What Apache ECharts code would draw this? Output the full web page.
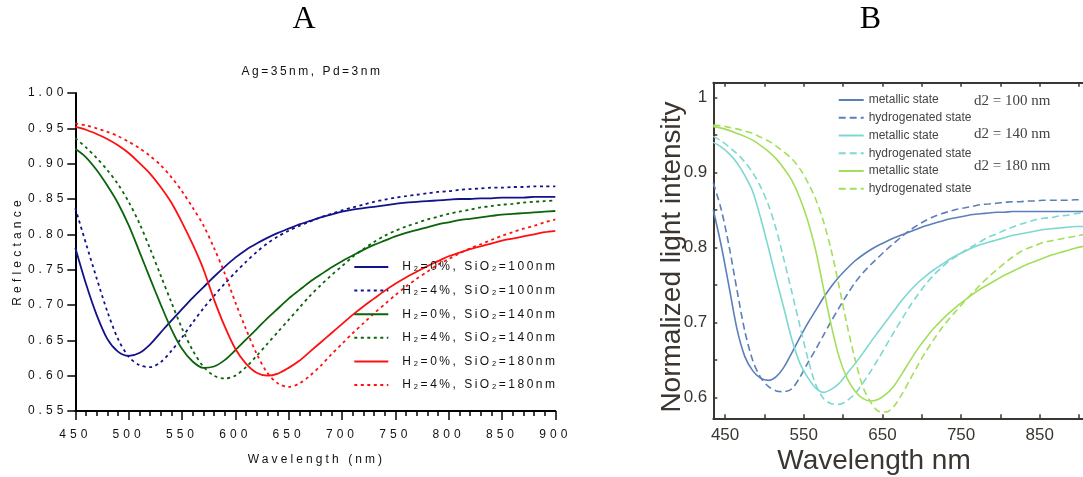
<!DOCTYPE html>
<html><head><meta charset="utf-8">
<script src="https://cdn.jsdelivr.net/npm/echarts@6/dist/echarts.min.js"></script>
<style>html,body{margin:0;background:#fff;}.c{position:absolute;left:0;top:0;width:1083px;height:477px;}</style>
</head><body>
<div id="a" class="c"></div><div id="b" class="c"></div>
<script>
// ---------- Panel A: wavelength (nm) and reflectance ----------
const A_wl = [450,460,470,480,490,500,510,520,530,540,550,560,570,580,590,600,610,620,630,640,650,660,670,680,690,700,710,720,730,740,750,760,770,780,790,800,810,820,830,840,850,860,870,880,890,900];
const A_h0_100 = [.781,.730,.686,.652,.634,.628,.632,.644,.661,.678,.694,.710,.725,.740,.754,.767,.778,.787,.795,.802,.808,.814,.819,.824,.828,.832,.835,.837,.839,.841,.843,.845,.846,.847,.848,.849,.850,.850,.851,.851,.852,.852,.852,.853,.853,.853];
const A_h4_100 = [.837,.787,.738,.691,.652,.627,.615,.612,.619,.635,.654,.675,.695,.713,.730,.746,.761,.775,.787,.797,.805,.812,.818,.824,.829,.834,.838,.842,.846,.849,.852,.854,.856,.858,.860,.861,.863,.864,.865,.866,.866,.867,.867,.868,.868,.868];
const A_h0_140 = [.921,.909,.891,.869,.844,.813,.776,.738,.701,.666,.638,.620,.611,.613,.622,.636,.651,.666,.681,.695,.709,.721,.733,.743,.753,.762,.770,.778,.785,.791,.797,.802,.806,.810,.814,.817,.820,.822,.824,.826,.828,.829,.830,.831,.832,.833];
const A_h4_140 = [.936,.923,.908,.891,.871,.846,.816,.780,.742,.704,.667,.636,.613,.600,.596,.600,.612,.628,.645,.662,.679,.696,.713,.728,.742,.755,.768,.779,.789,.798,.805,.811,.816,.821,.825,.829,.832,.835,.838,.840,.842,.843,.845,.846,.847,.848];
const A_h0_180 = [.952,.948,.942,.935,.926,.915,.901,.886,.867,.845,.817,.786,.751,.708,.670,.638,.617,.604,.600,.603,.611,.621,.634,.647,.660,.673,.686,.698,.709,.720,.730,.739,.747,.755,.762,.769,.774,.779,.783,.787,.791,.794,.797,.800,.803,.805];
const A_h4_180 = [.957,.954,.950,.945,.939,.931,.922,.911,.898,.881,.861,.838,.813,.781,.745,.704,.666,.631,.604,.589,.584,.589,.600,.614,.630,.645,.660,.674,.688,.701,.714,.726,.737,.747,.757,.765,.773,.780,.786,.792,.798,.803,.808,.812,.817,.821];
const A_names = ['H₂=0%, SiO₂=100nm','H₂=4%, SiO₂=100nm','H₂=0%, SiO₂=140nm','H₂=4%, SiO₂=140nm','H₂=0%, SiO₂=180nm','H₂=4%, SiO₂=180nm'];
const A_title = 'Ag=35nm, Pd=3nm';

// ---------- Panel B: wavelength (nm) and normalized light intensity ----------
const B_wl = [435,445,455,465,475,485,495,505,515,525,535,545,555,565,575,585,595,605,615,625,635,645,655,665,675,685,695,705,715,725,735,745,755,765,775,785,795,805,815,825,835,845,855,865,875,885,895,905];
const B_m_100 = [.850,.803,.748,.692,.655,.636,.626,.623,.628,.641,.660,.680,.699,.716,.733,.748,.761,.772,.782,.790,.797,.803,.808,.813,.817,.821,.825,.829,.832,.835,.838,.840,.842,.844,.845,.846,.847,.847,.848,.848,.848,.848,.848,.848,.848,.848,.848,.848];
const B_h_100 = [.886,.851,.802,.744,.689,.650,.627,.615,.609,.608,.612,.627,.646,.664,.683,.702,.720,.737,.753,.766,.777,.787,.797,.806,.815,.823,.830,.836,.841,.845,.848,.851,.853,.855,.857,.858,.859,.860,.861,.861,.862,.862,.863,.863,.863,.863,.8635,.8635];
const B_m_140 = [.940,.934,.925,.913,.896,.875,.840,.800,.758,.718,.677,.646,.627,.613,.607,.611,.619,.632,.645,.659,.674,.688,.702,.716,.730,.742,.753,.762,.770,.777,.784,.790,.795,.800,.804,.807,.810,.813,.816,.818,.820,.822,.824,.825,.826,.827,.828,.828];
const B_h_140 = [.948,.942,.934,.925,.914,.900,.881,.857,.824,.783,.740,.696,.653,.618,.599,.592,.591,.596,.605,.619,.635,.652,.670,.688,.705,.722,.737,.751,.763,.773,.782,.789,.796,.802,.808,.814,.818,.823,.827,.831,.834,.837,.839,.840,.842,.843,.845,.846];
const B_m_180 = [.961,.959,.956,.952,.948,.943,.936,.928,.918,.905,.889,.866,.836,.797,.746,.696,.654,.626,.609,.599,.5955,.598,.605,.616,.632,.649,.665,.679,.692,.703,.713,.722,.730,.738,.745,.751,.757,.763,.768,.773,.778,.782,.786,.790,.793,.796,.799,.8015];
const B_h_180 = [.963,.962,.960,.958,.955,.952,.947,.942,.935,.927,.918,.905,.887,.865,.835,.796,.748,.697,.652,.615,.594,.582,.581,.589,.605,.624,.643,.661,.677,.692,.705,.717,.729,.740,.751,.761,.770,.779,.787,.794,.799,.803,.807,.809,.811,.813,.815,.817];
const B_states = ['metallic state','hydrogenated state'];
const B_d2 = ['d2 = 100 nm','d2 = 140 nm','d2 = 180 nm'];
const B_xLabels = [450,550,650,750,850];
const B_xTicks = [450,500,550,600,650,700,750,800,850,900];
const B_yLabels = [0.6,0.7,0.8,0.9,1];
const B_yTicks = [0.6,0.65,0.7,0.75,0.8,0.85,0.9,0.95,1];

function pairs(xs, ys) { return ys.map((v, i) => [xs[i], v]); }

// letter-spaced text for panel A (canvas inside #a only)
const SPACING = {'Reflectance': '4.2px', 'Wavelength (nm)': '3.1px'};
const _fill = CanvasRenderingContext2D.prototype.fillText;
CanvasRenderingContext2D.prototype.fillText = function(t, x, y, w) {
  if ('letterSpacing' in this) {
    const inA = this.canvas && this.canvas.closest && this.canvas.closest('#a');
    if (inA) this.letterSpacing = SPACING[t] || (/^[\d.]+$/.test(t) ? '4px' : '2.5px');
    else this.letterSpacing = '0px';
  }
  return w === undefined ? _fill.call(this, t, x, y) : _fill.call(this, t, x, y, w);
};

const FA = 'Liberation Sans, Arial, sans-serif';
const chartA = echarts.init(document.getElementById('a'), null, {renderer: 'canvas'});

function lineA(name, ys, color, dotted) {
  return {name, type: 'line', data: pairs(A_wl, ys), smooth: 0.3, symbol: 'none', showSymbol: false, silent: true,
    color, lineStyle: {color, width: 1.8, type: dotted ? [3, 3.5] : 'solid'}};
}
chartA.setOption({
  animation: false,
  grid: {left: 75.3, top: 93, width: 480, height: 318, containLabel: false, outerBoundsMode: 'none'},
  xAxis: {type: 'value', min: 450, max: 900, interval: 50,
    axisLine: {show: true, lineStyle: {color: '#000', width: 2}},
    axisTick: {show: true, length: 9, lineStyle: {color: '#000', width: 1.5}},
    minorTick: {show: true, splitNumber: 5, length: 5, lineStyle: {color: '#000', width: 1.5}},
    axisLabel: {fontSize: 12, color: '#111', fontFamily: FA, margin: 18},
    splitLine: {show: false}, minorSplitLine: {show: false}},
  yAxis: {type: 'value', min: 0.55, max: 1.0, interval: 0.05,
    axisLine: {show: true, lineStyle: {color: '#000', width: 2}},
    axisTick: {show: true, length: 8, lineStyle: {color: '#000', width: 1.5}},
    axisLabel: {fontSize: 12, color: '#111', fontFamily: FA, margin: 8, formatter: v => v.toFixed(2)},
    splitLine: {show: false}},
  legend: {orient: 'vertical', left: 348.3, top: 256, itemWidth: 34, itemHeight: 14, itemGap: 11.6,
    data: A_names, selectedMode: false, itemStyle: {opacity: 0},
    textStyle: {fontSize: 12, color: '#111', fontFamily: FA, padding: [0, 0, 0, 9]}},
  graphic: [
    {type: 'text', x: 312, y: 72, style: {text: A_title, font: '12px Liberation Sans', fill: '#111', textAlign: 'center', textVerticalAlign: 'middle'}},
    {type: 'text', x: 17.5, y: 251, rotation: Math.PI / 2, style: {text: 'Reflectance', font: '12px Liberation Sans', fill: '#111', textAlign: 'center', textVerticalAlign: 'middle'}},
    {type: 'text', x: 316.5, y: 460, style: {text: 'Wavelength (nm)', font: '12px Liberation Sans', fill: '#111', textAlign: 'center', textVerticalAlign: 'middle'}}
  ],
  series: [
    lineA(A_names[0], A_h0_100, '#12128c', false),
    lineA(A_names[1], A_h4_100, '#12128c', true),
    lineA(A_names[2], A_h0_140, '#0a640a', false),
    lineA(A_names[3], A_h4_140, '#0a640a', true),
    lineA(A_names[4], A_h0_180, '#ff1010', false),
    lineA(A_names[5], A_h4_180, '#ff1010', true)
  ]
});

// ---------- Panel B ----------
const chartB = echarts.init(document.getElementById('b'), null, {renderer: 'canvas'});
const AX = '#3b3631';
const bNames = [];
const bSeries = [];
const bSets = [[B_m_100, B_h_100, '#5b7fba'], [B_m_140, B_h_140, '#7dd8d2'], [B_m_180, B_h_180, '#a3df5a']];
bSets.forEach((s, i) => {
  [0, 1].forEach(k => {
    const name = B_states[k] + '|' + i;
    bNames.push(name);
    bSeries.push({name, type: 'line', data: pairs(B_wl, s[k]), smooth: 0.3, symbol: 'none', showSymbol: false, silent: true,
      color: s[2], lineStyle: {color: s[2], width: 1.6, type: k ? [7, 4] : 'solid'}});
  });
});
const bAxisCommon = {type: 'value', min: 435, max: 905,
  axisLine: {show: true, lineStyle: {color: AX, width: 2}},
  axisTick: {show: true, inside: true, length: 4, customValues: B_xTicks, lineStyle: {color: AX, width: 1.5}},
  splitLine: {show: false}};
chartB.setOption({
  animation: false,
  grid: {left: 713.3, top: 82.7, width: 369.7, height: 335.6, containLabel: false, outerBoundsMode: 'none'},
  xAxis: [
    Object.assign({}, bAxisCommon, {position: 'bottom',
      axisLabel: {customValues: B_xLabels, fontSize: 17, color: AX, fontFamily: FA, margin: 9}}),
    Object.assign({}, bAxisCommon, {position: 'top', axisLabel: {show: false}})
  ],
  yAxis: {type: 'value', min: 0.5725, max: 1.0195,
    axisLine: {show: true, lineStyle: {color: AX, width: 2}},
    axisTick: {show: true, inside: true, length: 4, customValues: B_yTicks, lineStyle: {color: AX, width: 1.5}},
    axisLabel: {customValues: B_yLabels, fontSize: 17, color: AX, fontFamily: FA, margin: 6,
      formatter: v => (Math.abs(v - 1) < 1e-9 ? '1' : v.toFixed(1))},
    splitLine: {show: false}},
  legend: {orient: 'vertical', left: 832.7, top: 89, itemWidth: 25, itemHeight: 10, itemGap: 5.75,
    data: bNames, selectedMode: false, formatter: n => n.split('|')[0], itemStyle: {opacity: 0},
    textStyle: {fontSize: 12, color: '#444', fontFamily: FA}},
  graphic: [
    {type: 'text', x: 304, y: 20, style: {text: 'A', font: '32px Liberation Serif', fill: '#000', textAlign: 'center', textVerticalAlign: 'middle'}},
    {type: 'text', x: 870.5, y: 20, style: {text: 'B', font: '32px Liberation Serif', fill: '#000', textAlign: 'center', textVerticalAlign: 'middle'}},
    {type: 'text', x: 974, y: 101.5, style: {text: B_d2[0], font: '15px Liberation Serif', fill: '#444', textVerticalAlign: 'middle'}},
    {type: 'text', x: 974, y: 134, style: {text: B_d2[1], font: '15px Liberation Serif', fill: '#444', textVerticalAlign: 'middle'}},
    {type: 'text', x: 974, y: 166, style: {text: B_d2[2], font: '15px Liberation Serif', fill: '#444', textVerticalAlign: 'middle'}},
    {type: 'text', x: 874, y: 461, style: {text: 'Wavelength nm', font: '28px Liberation Sans', fill: AX, textAlign: 'center', textVerticalAlign: 'middle'}},
    {type: 'text', x: 672, y: 257, rotation: Math.PI / 2, style: {text: 'Normalized light intensity', font: '28px Liberation Sans', fill: AX, textAlign: 'center', textVerticalAlign: 'middle'}}
  ],
  series: bSeries
});
</script></body></html>
